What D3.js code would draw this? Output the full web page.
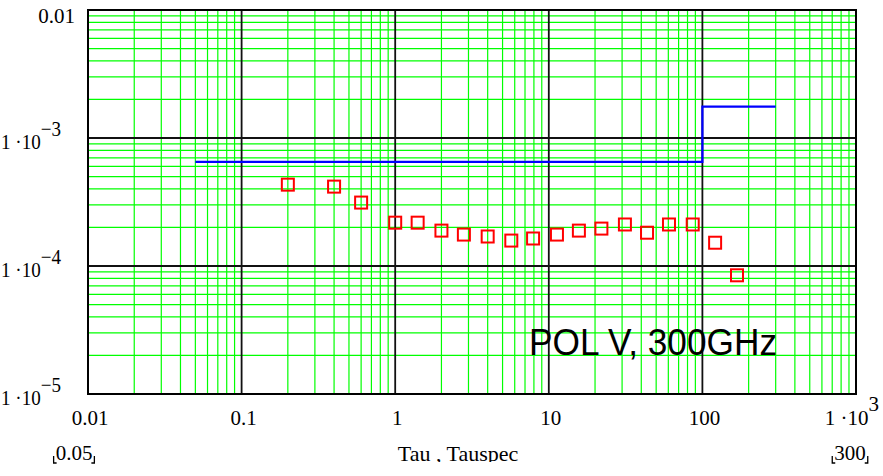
<html>
<head>
<style>
  body { margin: 0; background: #fff; }
</style>
</head>
<body>
<svg></svg>
<script src="https://d3js.org/d3.v7.min.js"></script>
<script>
// measured points (tau, value)
const tau = [0.2, 0.4, 0.6, 1, 1.4, 2, 2.8, 4, 5.7, 7.9, 11.3, 15.7, 22, 31.3, 43.6, 60.6, 86.5, 121, 168];
const sigma = [4.32e-4, 4.17e-4, 3.13e-4, 2.18e-4, 2.18e-4, 1.89e-4, 1.76e-4, 1.70e-4, 1.58e-4, 1.64e-4,
               1.76e-4, 1.89e-4, 1.96e-4, 2.11e-4, 1.82e-4, 2.11e-4, 2.11e-4, 1.52e-4, 8.46e-5];
// spec line (step)
const specTau = [0.05, 100, 100, 300];
const specVal = [6.5e-4, 6.5e-4, 1.76e-3, 1.76e-3];
// ticks
const xTicks = [0.01, 0.1, 1, 10, 100, 1000];
const xTickLabels = [["0.01"], ["0.1"], ["1"], ["10"], ["100"], ["1 \u00b710", "3"]];
const yTicks = [0.01, 0.001, 1e-4, 1e-5];
const yTickLabels = [["0.01"], ["1 \u00b710", "\u22123"], ["1 \u00b710", "\u22124"], ["1 \u00b710", "\u22125"]];
const rangeLabels = ["0.05", "300"];
const xTitle = "Tau , Tauspec";
const note = "POL V, 300GHz";

const SERIF = "Times, 'Times New Roman', 'Liberation Serif', 'DejaVu Serif', serif";
const SANS = "'Liberation Sans', Arial, sans-serif";

const W = 883, H = 476;
const svg = d3.select("svg").attr("width", W).attr("height", H);

const x = d3.scaleLog().domain([0.01, 1000]).range([88, 856]);
const y = d3.scaleLog().domain([1e-5, 1e-2]).range([394, 10]);

// minor grid 2..9 per decade
const xMinor = [], yMinor = [];
for (let e = -2; e < 3; e++) for (let m = 2; m <= 9; m++) xMinor.push(m * Math.pow(10, e));
for (let e = -5; e < -2; e++) for (let m = 2; m <= 9; m++) yMinor.push(m * Math.pow(10, e));

const grid = svg.append("g");
grid.selectAll(".vx").data(xMinor).join("line")
    .attr("x1", d => x(d)).attr("x2", d => x(d))
    .attr("y1", y.range()[0]).attr("y2", y.range()[1])
    .attr("stroke", "#00ff00").attr("stroke-width", 1.2);
grid.selectAll(".hy").data(yMinor).join("line")
    .attr("y1", d => y(d)).attr("y2", d => y(d))
    .attr("x1", x.range()[0]).attr("x2", x.range()[1])
    .attr("stroke", "#00ff00").attr("stroke-width", 1.2);

// major decade lines
grid.selectAll(".mx").data(xTicks.slice(1, -1)).join("line")
    .attr("x1", d => x(d)).attr("x2", d => x(d))
    .attr("y1", y.range()[0]).attr("y2", y.range()[1])
    .attr("stroke", "#111").attr("stroke-width", 1.8);
grid.selectAll(".my").data(yTicks.slice(1, -1)).join("line")
    .attr("y1", d => y(d)).attr("y2", d => y(d))
    .attr("x1", x.range()[0]).attr("x2", x.range()[1])
    .attr("stroke", "#111").attr("stroke-width", 1.8);

// frame
svg.append("rect")
    .attr("x", x.range()[0]).attr("y", y.range()[1])
    .attr("width", x.range()[1] - x.range()[0])
    .attr("height", y.range()[0] - y.range()[1])
    .attr("fill", "none").attr("stroke", "#000").attr("stroke-width", 2);

// spec line
const line = d3.line().x(d => x(d[0])).y(d => y(d[1]));
svg.append("path")
    .datum(specTau.map((t, i) => [t, specVal[i]]))
    .attr("d", line)
    .attr("fill", "none").attr("stroke", "#0000ff").attr("stroke-width", 2.2);

// squares
const sz = 12;
svg.append("g").selectAll("rect").data(tau.map((t, i) => [t, sigma[i]])).join("rect")
    .attr("x", d => x(d[0]) - sz / 2).attr("y", d => y(d[1]) - sz / 2)
    .attr("width", sz).attr("height", sz)
    .attr("fill", "none").attr("stroke", "#ff0000").attr("stroke-width", 2);

function serifText(sel) {
    return sel.attr("font-family", SERIF).style("font-family", SERIF).attr("fill", "#000");
}

// x tick labels
const fs = 21;
xTicks.forEach((t, i) => {
    const lab = xTickLabels[i];
    const last = i === xTicks.length - 1;
    const tx = serifText(svg.append("text")).attr("x", last ? 879 : x(t) + 2).attr("y", 425)
        .attr("text-anchor", last ? "end" : "middle").attr("font-size", fs);
    tx.append("tspan").text(lab[0]);
    if (lab[1]) tx.append("tspan").attr("dy", -14).text(lab[1]);
});

// y tick labels
yTicks.forEach((t, i) => {
    const lab = yTickLabels[i];
    if (!lab[1]) {
        serifText(svg.append("text")).attr("x", 75).attr("y", y(t) + 13)
            .attr("text-anchor", "end").attr("font-size", fs).text(lab[0]);
    } else {
        const tx = serifText(svg.append("text")).attr("x", 1).attr("y", y(t) + 11)
            .attr("font-size", fs)
            .attr("textLength", 60).attr("lengthAdjust", "spacingAndGlyphs");
        tx.append("tspan").text(lab[0]);
        tx.append("tspan").attr("dy", -13).text(lab[1]);
    }
});

// bottom row: range limits with corner marks and axis title (clipped)
svg.append("clipPath").attr("id", "bclip").append("rect")
    .attr("x", 0).attr("y", 430).attr("width", W).attr("height", 32);
const bottom = svg.append("g").attr("clip-path", "url(#bclip)");
serifText(bottom.append("text")).attr("x", 458).attr("y", 461)
    .attr("text-anchor", "middle").attr("font-size", 22).text(xTitle);

[[74, rangeLabels[0]], [850, rangeLabels[1]]].forEach(([cx, s]) => {
    const t = serifText(svg.append("text")).attr("x", cx).attr("y", 460)
        .attr("text-anchor", "middle").attr("font-size", 21).text(s);
    const w = t.node().getComputedTextLength();
    const l = cx - w / 2 - 2, r = cx + w / 2 + 2;
    svg.append("path")
        .attr("d", `M${l},456 V463 H${l + 3} M${r},456 V463 H${r - 3}`)
        .attr("fill", "none").attr("stroke", "#000").attr("stroke-width", 1.3);
});

// annotation
svg.append("text").attr("x", 529).attr("y", 355)
    .attr("font-family", SANS).style("font-family", SANS)
    .attr("font-size", 37).attr("textLength", 248).attr("lengthAdjust", "spacingAndGlyphs")
    .text(note);
</script>
</body>
</html>
